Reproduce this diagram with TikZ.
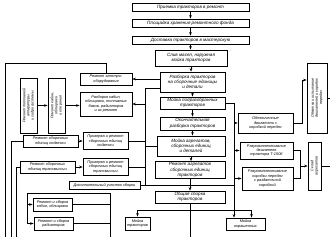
\documentclass[tikz,border=0pt]{standalone}
\usepackage{fontspec}
\setmainfont{Liberation Sans}
\usepackage{tikz}
\usetikzlibrary{arrows.meta, positioning, calc}

\begin{document}
\begin{tikzpicture}[x=1mm, y=-1mm,
  font=\fontsize{13}{15}\selectfont\itshape,
  every node/.style={align=center},
  box/.style={draw, line width=2.2pt, inner sep=1pt},
  sbox/.style={box, font=\fontsize{11}{12.5}\selectfont\itshape},
  vbox/.style={box, rotate=90, font=\fontsize{10.5}{12}\selectfont\itshape},
  link/.style={line width=1.6pt},
  arr/.style={link, -{Stealth[length=3.5mm, width=2.6mm]}}]
  \useasboundingbox (0,0) rectangle (330,237);
  % main column
  \node[box, minimum width=117mm, minimum height=8mm] (b1) at (190.5,7) {Приемка тракторов в ремонт};
  \node[box, minimum width=117mm, minimum height=8mm] (b2) at (190.5,23) {Площадка хранения ремонтного фонда};
  \node[box, minimum width=117mm, minimum height=8mm] (b3) at (190.5,40) {Доставка тракторов в мастерскую};
  \node[box, minimum width=72mm, minimum height=16mm] (b4) at (191,58) {Слив масел, наружная\\мойка тракторов};
  \node[box, minimum width=65mm, minimum height=20mm] (b5) at (192.5,82) {Разборка тракторов\\на сборочные единицы\\и детали};
  \node[box, minimum width=65mm, minimum height=12mm] (b6) at (192.5,103) {Мойка подразобранных\\тракторов};
  \node[box, minimum width=65mm, minimum height=13mm] (b7) at (192.5,123.5) {Окончательная\\разборка тракторов};
  \node[box, minimum width=68mm, minimum height=20mm] (b8) at (191,146) {Мойка агрегатов,\\сборочных единиц\\и деталей};
  \node[box, minimum width=70mm, minimum height=17mm] (b9) at (190,170) {Ремонт агрегатов\\сборочных единиц\\тракторов};
  \node[box, minimum width=70mm, minimum height=12mm] (b10) at (190,197) {Общая сборка\\тракторов};
  % left side
  \node[sbox, minimum width=52mm, minimum height=12mm] (l1) at (106,79) {Ремонт электро-\\оборудования};
  \node[sbox, minimum width=52mm, minimum height=24mm] (l2) at (106,104) {Разборка кабин,\\облицовки, топливных\\баков, радиаторов\\и их ремонт};
  \node[vbox, minimum width=55mm, minimum height=17mm] (va) at (28.5,105.5) {Ремонт топливной\\аппаратуры\\и гидросистемы};
  \node[vbox, minimum width=55mm, minimum height=17mm] (vb) at (56.5,105.5) {Ремонт кабин,\\облицовки\\и оперения};
  \node[sbox, minimum width=55mm, minimum height=12mm] (l3) at (50.5,141) {Ремонт сборочных\\единиц подвески};
  \node[sbox, minimum width=45mm, minimum height=17mm] (l4) at (105.5,141) {Проверка и ремонт\\сборочных единиц\\подвески};
  \node[sbox, minimum width=55mm, minimum height=12mm] (l5) at (47.5,167) {Ремонт сборочных\\единиц трансмиссии};
  \node[sbox, minimum width=45mm, minimum height=17mm] (l6) at (105.5,167) {Проверка и ремонт\\сборочных единиц\\трансмиссии};
  \node[sbox, minimum width=71mm, minimum height=8mm] (l7) at (104.5,185) {Дополнительный участок сборки};
  \node[sbox, minimum width=39mm, minimum height=13mm] (l8) at (52.5,204.5) {Ремонт и сборка\\кабин, облицовки};
  \node[sbox, minimum width=39mm, minimum height=13mm] (l9) at (53.5,223.5) {Ремонт и сборка\\радиаторов};
  % right side
  \node[sbox, minimum width=55mm, minimum height=20mm] (r1) at (265.5,123) {Обезличенные\\двигатели с\\коробкой передач};
  \node[sbox, minimum width=53mm, minimum height=17mm] (r2) at (266.5,150.5) {Разукомплектование\\двигателя\\трактора Т-150К};
  \node[sbox, minimum width=51mm, minimum height=23mm] (r3) at (267.5,178.5) {Разукомплектование\\коробки передач\\с раздаточной\\коробкой};
  \node[vbox, minimum width=70mm, minimum height=20mm] (rv1) at (317,98) {Обкатка и испытание\\двигателей и коробок\\передач};
  \node[vbox, minimum width=48mm, minimum height=13mm] (rv2) at (314.5,166) {Склад\\агрегатов};
  % bottom
  \node[sbox, minimum width=25mm, minimum height=13mm] (bl) at (137.5,223.5) {Мойка\\тракторов};
  \node[sbox, minimum width=39mm, minimum height=12mm] (br) at (245.5,224) {Мойка\\окрашенных};

  % main flow
  \foreach \a/\b in {b1/b2,b2/b3,b3/b4,b4/b5,b5/b6,b6/b7,b7/b8,b8/b9,b9/b10}
    \draw[arr] (\a.south) -- (\a.south |- \b.north);
  % left bus
  \coordinate (lbt) at (145,88);
  \coordinate (lbb) at (145,185);
  \draw[link] (b5.west |- lbt) -- (lbt) -- (lbb) -- (lbb -| b9.south);
  \draw[arr] (b5.west |- l1.east) -- (l1.east);
  \draw[arr] (lbt |- l2.east) -- (l2.east);
  \draw[link] (l4.east) -- (lbt |- l4.east);
  \draw[link] (b8.west) -- (lbt |- b8.west);
  \draw[link] (l6.east) -- (lbt |- l6.east);
  \draw[link] (l7.east) -- (lbt |- l7.east);
  \draw[arr] (l3.east) -- (l3.east -| l4.west);
  \draw[arr] (l5.east) -- (l5.east -| l6.west);
  \draw[arr] (va.south) -- (vb.north);
  \draw[arr] (vb.south) -- (vb.south -| l2.west);
  % left frame lines
  \coordinate (fr) at (5,63);
  \coordinate (frb) at (5,237);
  \coordinate (lv1) at (11,237);
  \coordinate (lv2) at (16,237);
  \draw[link] (l1.north) |- (fr) -- (frb);
  \draw[link] (l3.west) -| (lv1);
  \draw[link] (l5.west) -| (lv2);
  % cabins and radiators
  \coordinate (lw) at (27,193);
  \coordinate (le) at (110,193);
  \coordinate (leb) at (110,237);
  \draw[link] (leb) -- (le) -- (lw);
  \draw[arr] (lw) |- (l9.west);
  \draw[arr] (lw |- l8.west) -- (l8.west);
  \draw[link] (l8.east) -- (le |- l8.east);
  \draw[link] (l9.east) -- (le |- l9.east);
  % right bus
  \coordinate (rbt) at (234,103);
  \coordinate (rbm) at (234,185);
  \draw[arr] (b6.east) -| (rbt |- br.north);
  \draw[arr] (rbt |- r1.west) -- (r1.west);
  \draw[arr] (rbt |- r2.west) -- (r2.west);
  \draw[arr] (rbt |- r3.west) -- (r3.west);
  \draw[link] (rbm) -- (rbm -| b9.south);
  \coordinate (rj1) at (302,80);
  \coordinate (rj2) at (300,166);
  \draw[arr] (r1.east) -| (rj1) -- (rj1 -| rv1.north);
  \draw[link] (r2.east) -| (rj2);
  \draw[link] (r3.east) -| (rj2);
  \draw[arr] (rj2) -- (rj2 -| rv2.north);
  \coordinate (re1) at (330,98);
  \coordinate (re2) at (330,166);
  \draw[link] (rv1.south) -- (re1);
  \draw[link] (rv2.south) -- (re2);
  % output
  \coordinate (bj) at (190,210);
  \coordinate (bo) at (190,237);
  \draw[link] (b10.south) -- (bo);
  \draw[arr] (bj) -| (bl.north);
  \draw[arr] (bj) -| ([xshift=6mm]br.north);
\end{tikzpicture}
\end{document}
